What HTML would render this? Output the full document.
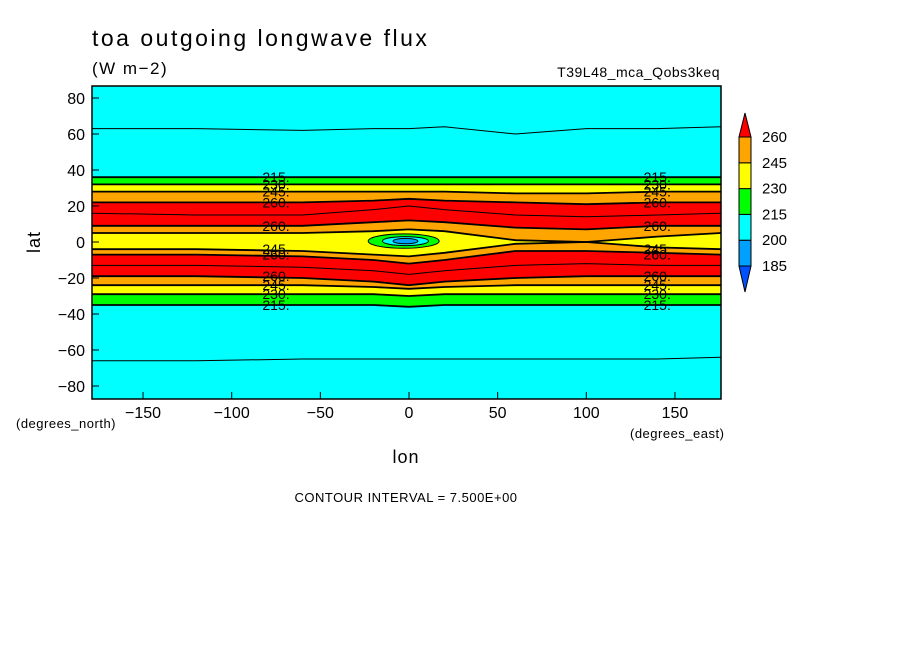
<!DOCTYPE html>
<html><head><meta charset="utf-8"><style>
body{margin:0;background:#fff;width:904px;height:654px;overflow:hidden}
svg{display:block;font-family:"Liberation Sans",sans-serif}
</style></head><body>
<svg id="c" width="904" height="654">
<text x="92" y="46" font-size="23" letter-spacing="2.5">toa outgoing longwave flux</text>
<text x="92" y="74" font-size="17" letter-spacing="1.5">(W m−2)</text>
<text x="720" y="77" font-size="14" letter-spacing="0.5" text-anchor="end">T39L48_mca_Qobs3keq</text>
<g id="plot"></g>
<g id="axes"></g>
<text x="406" y="463" font-size="18" letter-spacing="1" text-anchor="middle">lon</text>
<text x="40" y="242" font-size="18" letter-spacing="1" text-anchor="middle" transform="rotate(-90 40 242)">lat</text>
<text x="16" y="428" font-size="13" letter-spacing="0.5">(degrees_north)</text>
<text x="630" y="438" font-size="13" letter-spacing="0.5">(degrees_east)</text>
<text x="406" y="502" font-size="13" letter-spacing="0.5" text-anchor="middle">CONTOUR INTERVAL = 7.500E+00</text>
<g id="cbar"></g>
</svg>
<script>
const lons=[-180,-120,-60,-20,0,20,60,100,140,180];
const b0=[36,36,36,36,36,36,36,36,36,36];
const b1=[32,32,32,32,32,32,32,32,32,32];
const b2=[28,28,28,28,28,28,27,27,28,28];
const b3=[22,22,22,23,24,23,22,21,22,22];
const b4=[9,9,9,11,12,11,8,7,9,9];
const b5=[5,5,5,6,7,6,1,0,3,5];
const b6=[-4,-4,-5,-7,-8,-6,-1,0,-3,-4];
const b7=[-7,-7,-8,-10,-12,-10,-5,-5,-6,-7];
const b8=[-19,-19,-20,-22,-24,-22,-20,-19,-19,-19];
const b9=[-24,-24,-24,-25,-26,-25,-24,-24,-24,-24];
const b10=[-29,-29,-29,-29,-30,-29,-29,-29,-29,-29];
const b11=[-35,-35,-35,-35,-36,-35,-35,-35,-35,-35];
const nIn=[16,15,15,18,20,18,15,14,15,16];
const sIn=[-13,-13,-14,-16,-18,-16,-13,-12,-13,-13];
const n60=[63,63,62,63,63,64,60,63,63,64];
const s60=[-66,-66,-65,-65,-65,-65,-65,-65,-65,-64];
const blobLon=[-3,-2,-2];const blobLat=[0.5,0.5,0.5];
const blobRx=[20,13,7];const blobRy=[4,2.5,1.5];
const levels=["185","200","215","230","245","260"];
const xTicks=[-150,-100,-50,0,50,100,150];
const yTicks=[-80,-60,-40,-20,0,20,40,60,80];
const C={cy:"#00ffff",gr:"#00ff00",ye:"#ffff00",or:"#ffa500",re:"#ff0000",bl:"#00a0ff",db:"#0050ff"};
const L=92,R=721,T=86,B=399;
const X=v=>409+v*1.773, Y=v=>242-v*1.8;
const NS="http://www.w3.org/2000/svg";
function el(t,a,p){const e=document.createElementNS(NS,t);for(const k in a)e.setAttribute(k,a[k]);p.appendChild(e);return e;}
const plot=document.getElementById('plot');
const bounds=[b0,b1,b2,b3,b4,b5,b6,b7,b8,b9,b10,b11];
const cols=[C.gr,C.ye,C.or,C.re,C.or,C.ye,C.or,C.re,C.or,C.ye,C.gr];
const bg=el('rect',{x:L,y:T,width:R-L,height:B-T,fill:C.cy},plot);


const pts=a=>lons.map((l,i)=>[Math.max(L,Math.min(R,X(l))),Y(a[i])]);
for(let i=0;i<cols.length;i++){
 const upper=pts(bounds[i]),lower=pts(bounds[i+1]).reverse();
 const p=el('polygon',{points:upper.concat(lower).map(q=>q.join(',')).join(' '),fill:cols[i]},plot);
 
 
}
[...bounds,nIn,sIn,n60,s60].forEach((a,i)=>{
 const pl=el('polyline',{points:pts(a).map(q=>q.join(',')).join(' '),fill:'none',stroke:'#000','stroke-width':i<12?1.8:1},plot);
 
 
});
const bc=[C.gr,C.cy,C.bl];
blobLon.forEach((l,i)=>{
 const e=el('ellipse',{cx:X(l),cy:Y(blobLat[i]),rx:blobRx[i]*1.773,ry:blobRy[i]*1.8,fill:bc[i],stroke:'#000','stroke-width':1},plot);
 
 
});
const labs=[["215.",36],["230.",32],["245.",28],["260.",22],["260.",9],["245.",-4],["260.",-7],["260.",-19],["245.",-24],["230.",-29],["215.",-35]];
[-75,140].forEach(l=>labs.forEach(([t,la])=>{
 const tx=el('text',{x:X(l),y:Y(la)+5,'font-size':14,'text-anchor':'middle'},plot);
 tx.textContent=t;
 
 
}));
const ax=document.getElementById('axes');
el('rect',{x:L,y:T,width:R-L,height:B-T,fill:'none',stroke:'#000','stroke-width':1.5},ax);
xTicks.forEach(v=>{
 el('line',{x1:X(v),x2:X(v),y1:B,y2:B-7,stroke:'#000'},ax);
 const t=el('text',{x:X(v),y:B+19,'font-size':16,'text-anchor':'middle'},ax);
 t.textContent=(v<0?'−':'')+Math.abs(v);
 
 
});
yTicks.forEach(v=>{
 el('line',{x1:L,x2:L+7,y1:Y(v),y2:Y(v),stroke:'#000'},ax);
 const t=el('text',{x:L-7,y:Y(v)+6,'font-size':16,'text-anchor':'end'},ax);
 t.textContent=(v<0?'−':'')+Math.abs(v);
 
 
});
const cb=document.getElementById('cbar');
const segC=[C.bl,C.cy,C.gr,C.ye,C.or];
const cbTop=137,h=25.8;
el('polygon',{points:`739,${cbTop} 745,113 751,${cbTop}`,fill:C.re,stroke:'#000'},cb);
segC.forEach((c,i)=>{const y=cbTop+(segC.length-1-i)*h;
 const r=el('rect',{x:739,y:y,width:12,height:h,fill:c,stroke:'#000'},cb);
 
 
});
const cbBot=cbTop+5*h;
el('polygon',{points:`739,${cbBot} 745,292 751,${cbBot}`,fill:C.db,stroke:'#000'},cb);
levels.forEach((t,i)=>{const y=cbTop+(5-i)*h;
 const tx=el('text',{x:762,y:y+5,'font-size':15},cb);
 tx.textContent=t;
 
 
});
</script>
</body></html>
